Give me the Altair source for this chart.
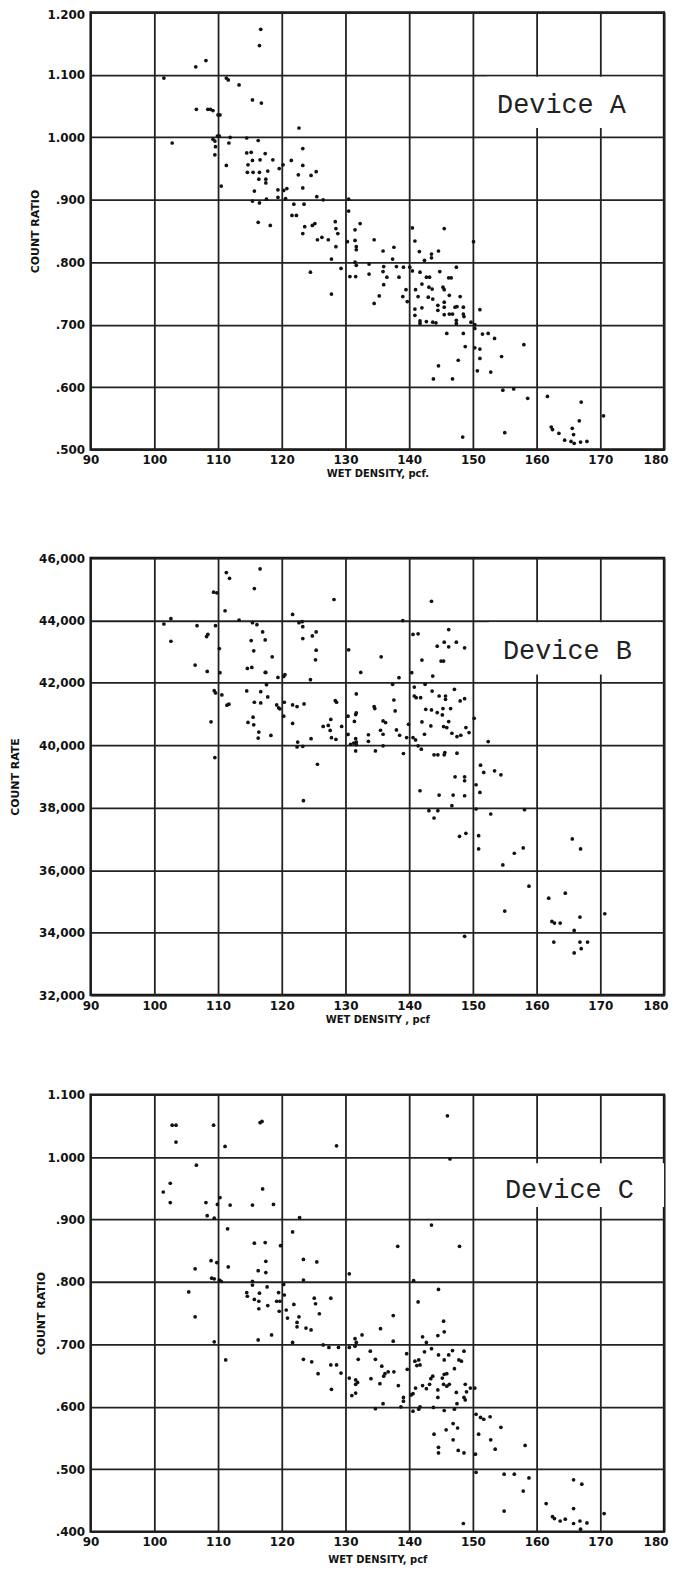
import altair as alt
import pandas as pd

# ---------------- Device A (count ratio vs wet density) ----------------
A_X = [101.5, 102.8, 106.5, 108.1, 106.6, 108.4, 108.8, 109.2, 110.0, 110.3,
       109.2, 109.5, 109.9, 110.2, 109.6, 109.5, 111.3, 111.6, 113.3, 111.9,
       111.7, 111.3, 110.5, 115.4, 116.8, 116.7, 116.5, 114.5, 116.3, 114.5,
       115.2, 114.7, 115.4, 116.6, 117.4, 118.6, 114.6, 115.5, 116.5, 116.4,
       117.5, 117.5, 117.8, 115.7, 115.4, 116.5, 117.6, 116.3, 118.2, 119.6,
       120.2, 119.4, 120.3, 120.8, 119.4, 120.6, 121.5, 122.7, 123.3, 123.3,
       122.6, 123.3, 124.6, 125.4, 125.5, 126.5, 121.9, 123.5, 121.6, 122.3,
       123.6, 123.3, 124.8, 125.2, 125.6, 126.3, 127.3, 128.4, 128.5, 128.8,
       128.5, 127.8, 129.3, 127.8, 124.5, 130.5, 130.5, 130.3, 131.5, 132.3,
       131.5, 131.7, 131.7, 131.5, 131.7, 130.7, 131.6, 133.7, 133.7, 134.5,
       134.5, 135.3, 135.9, 137.6, 137.4, 136.0, 135.9, 136.5, 136.0, 138.0,
       138.4, 139.1, 139.5, 139.0, 139.7, 140.5, 140.9, 141.6, 140.1, 140.5,
       141.7, 142.4, 143.5, 143.5, 144.6, 145.5, 150.1, 144.8, 147.4, 142.7,
       143.2, 142.0, 141.0, 141.4, 143.1, 143.6, 145.3, 145.5, 146.2, 146.6,
       146.3, 148.0, 143.0, 143.7, 144.5, 144.5, 145.5, 145.5, 145.5, 146.3,
       146.8, 147.2, 147.5, 148.5, 148.5, 148.6, 151.1, 140.9, 140.9, 142.0,
       141.7, 141.7, 142.7, 143.7, 144.2, 147.4, 147.4, 149.7, 150.3, 150.3,
       145.9, 148.5, 151.5, 152.4, 153.4, 148.8, 150.3, 151.1, 158.0, 151.1,
       154.5, 147.7, 144.6, 150.7, 152.8, 143.8, 146.8, 154.7, 156.4, 158.6,
       161.7, 167.0, 166.7, 170.5, 162.3, 162.5, 163.5, 164.4, 165.6, 165.8,
       165.4, 165.9, 166.9, 167.9, 155.0, 148.4]
A_Y = [1.095, 0.991, 1.113, 1.123, 1.045, 1.045, 1.045, 1.043, 1.036, 1.036,
       0.997, 0.994, 1.002, 1.002, 0.985, 0.972, 1.095, 1.092, 1.084, 1.000,
       0.991, 0.955, 0.922, 1.060, 1.055, 1.173, 1.147, 0.999, 0.995, 0.975,
       0.976, 0.956, 0.963, 0.964, 0.974, 0.964, 0.944, 0.944, 0.944, 0.933,
       0.933, 0.927, 0.946, 0.914, 0.898, 0.895, 0.901, 0.864, 0.859, 0.950,
       0.956, 0.916, 0.915, 0.918, 0.904, 0.902, 0.963, 1.015, 0.982, 0.955,
       0.940, 0.919, 0.939, 0.945, 0.905, 0.900, 0.893, 0.893, 0.875, 0.875,
       0.857, 0.846, 0.859, 0.862, 0.836, 0.840, 0.836, 0.865, 0.854, 0.846,
       0.825, 0.805, 0.790, 0.749, 0.784, 0.901, 0.882, 0.833, 0.852, 0.862,
       0.835, 0.825, 0.820, 0.800, 0.795, 0.777, 0.777, 0.797, 0.781, 0.836,
       0.734, 0.746, 0.818, 0.824, 0.805, 0.793, 0.785, 0.776, 0.764, 0.793,
       0.776, 0.792, 0.756, 0.745, 0.737, 0.855, 0.834, 0.817, 0.792, 0.786,
       0.784, 0.803, 0.807, 0.813, 0.818, 0.854, 0.833, 0.785, 0.792, 0.776,
       0.776, 0.765, 0.756, 0.745, 0.760, 0.757, 0.760, 0.756, 0.775, 0.775,
       0.747, 0.745, 0.744, 0.741, 0.731, 0.723, 0.736, 0.728, 0.716, 0.717,
       0.717, 0.728, 0.729, 0.728, 0.717, 0.713, 0.724, 0.725, 0.715, 0.727,
       0.706, 0.702, 0.705, 0.704, 0.703, 0.707, 0.702, 0.704, 0.700, 0.694,
       0.686, 0.686, 0.685, 0.686, 0.678, 0.665, 0.663, 0.661, 0.668, 0.646,
       0.649, 0.643, 0.634, 0.626, 0.624, 0.613, 0.613, 0.595, 0.597, 0.582,
       0.585, 0.576, 0.546, 0.554, 0.536, 0.532, 0.526, 0.515, 0.534, 0.524,
       0.513, 0.510, 0.512, 0.513, 0.527, 0.520]

# ---------------- Device B (count rate vs wet density) ----------------
B_X = [101.5, 102.6, 102.6, 106.7, 106.4, 108.3, 108.2, 108.4, 108.9, 109.6,
       109.3, 109.8, 109.6, 109.4, 110.3, 110.2, 110.6, 109.5, 111.3, 111.8,
       111.1, 111.4, 111.7, 113.3, 114.5, 114.6, 115.3, 114.7, 115.4, 115.2,
       115.6, 115.7, 116.6, 116.1, 117.0, 117.4, 117.4, 117.5, 117.6, 116.7,
       117.8, 115.7, 116.7, 115.5, 115.6, 116.4, 116.3, 118.3, 118.5, 119.4,
       120.3, 120.5, 119.2, 119.5, 119.7, 120.4, 120.3, 121.7, 121.7, 122.4,
       121.7, 122.7, 123.2, 123.3, 123.3, 123.5, 122.5, 122.4, 123.3, 124.5,
       124.8, 125.4, 125.3, 125.4, 124.6, 125.6, 123.4, 126.5, 127.3, 127.7,
       127.6, 127.8, 128.5, 128.2, 128.4, 128.6, 129.4, 130.5, 130.4, 130.4,
       130.8, 131.3, 131.4, 131.6, 131.7, 131.7, 131.6, 131.7, 131.7, 131.6,
       132.4, 133.6, 133.6, 134.5, 134.7,
       143.5, 139.0, 140.6, 141.4, 146.2, 144.4, 145.5, 146.2, 147.4, 148.7,
       135.6, 142.0, 145.0, 145.4, 140.4, 138.4, 137.4, 143.7, 140.8, 140.8,
       141.1, 142.5, 141.8, 143.6, 144.7, 145.7, 145.7, 147.1, 148.0, 148.7,
       137.6, 134.6, 137.8, 142.6, 143.5, 144.4, 145.3, 146.5, 145.2, 146.2,
       150.2, 135.9, 136.3, 139.9, 142.0, 143.4, 145.4, 145.9, 148.9, 149.4,
       135.5, 135.9, 138.0, 138.5, 139.6, 140.6, 141.0, 142.4, 146.7, 147.5,
       148.1, 152.4, 135.9, 139.1, 141.4, 141.9, 143.9, 144.5, 145.5, 145.6,
       147.5, 151.2, 151.7, 153.4, 154.4, 147.2, 148.7, 148.7, 150.5, 151.1,
       141.7, 144.7, 146.9, 148.7, 146.7, 143.1, 144.5, 143.9, 150.5, 152.8,
       158.1, 147.9, 148.9, 150.9, 150.9, 157.9, 156.5, 154.7, 165.6, 166.9,
       158.8, 164.5, 161.9, 155.0, 170.7, 166.8, 162.4, 162.8, 163.7, 165.9,
       162.7, 166.8, 168.0, 167.0, 165.9, 148.7]
B_Y = [43887, 44056, 43334, 43834, 42570, 42368, 43483, 43557, 40754, 43834,
       44906, 44885, 41678, 41752, 42326, 43101, 41614, 39607, 45533, 45352,
       44311, 41285, 41317, 44014, 41741, 42463, 42495, 40733, 43929, 43356,
       43026, 45023, 45650, 43866, 43632, 43377, 42336, 42336, 41943, 41720,
       41550, 41380, 41359, 40902, 40658, 40425, 40233, 40318, 42835, 42177,
       42209, 42262, 41295, 41200, 41168, 41380, 40934, 44194, 41295, 41243,
       40700, 43929, 43961, 43802, 43420, 41327, 40106, 39947, 39968, 42103,
       43504, 43632, 42740, 43048, 40212, 39394, 38226, 40605, 40637, 40828,
       40478, 40244, 40191, 44672, 41433, 41380, 40605, 43058, 40934, 40350,
       40031, 40074, 40764, 40987, 41040, 41646, 40212, 40106, 40021, 39819,
       42336, 40339, 40127, 41243, 39819,
       44616, 43998, 43551, 43572, 43710, 43178, 43306, 43157, 43306, 43125,
       42837, 42730, 42698, 42698, 42326, 42166, 41953, 42219, 41868, 41580,
       41527, 41953, 41527, 41740, 41580, 41580, 41474, 41793, 41421, 41495,
       41452, 41176, 41101, 41155, 41133, 41048, 41176, 41176, 40973, 40760,
       40867, 40781, 40728, 40675, 40750, 40622, 40600, 40568, 40568, 40409,
       40483, 40355, 40494, 40323, 40249, 40249, 40174, 40355, 40387, 40281,
       40323, 40121, 39983, 39738, 39983, 39876, 39695, 39695, 39695, 39770,
       39749, 39365, 39131, 39184, 39056, 38992, 38992, 38865, 38737, 38492,
       38545, 38407, 38407, 38385, 38066, 37906, 37906, 37672, 37960, 37800,
       37938, 37086, 37182, 37107, 36681, 36713, 36543, 36170, 37001, 36681,
       35488, 35265, 35105, 34690, 34605, 34498, 34360, 34307, 34307, 34072,
       33699, 33699, 33699, 33486, 33348, 33880]

# ---------------- Device C (count ratio vs wet density) ----------------
C_X = [101.4, 102.5, 102.5, 102.8, 103.4, 103.4, 106.6, 106.4, 105.4, 106.4,
       108.1, 108.3, 109.4, 109.3, 108.9, 109.8, 109.0, 109.4, 110.2, 110.5,
       109.4, 109.9, 110.3, 111.1, 111.5, 111.9, 111.6, 111.2, 115.4, 115.7,
       117.4, 117.0, 116.6, 116.9, 118.7, 115.4, 115.4, 116.3, 117.5, 117.5,
       114.5, 114.6, 115.7, 116.5, 117.7, 116.4, 116.4, 117.8, 116.3, 118.4,
       119.8, 120.3, 120.4, 119.5, 119.7, 119.2, 119.6, 120.7, 120.9, 121.7,
       122.8, 123.4, 123.4, 121.9, 122.7, 122.4, 122.4, 121.7, 123.8, 124.6,
       125.5, 125.1, 125.3, 125.9, 123.4, 124.7, 125.7, 126.5, 127.4, 127.7,
       127.7, 128.6, 128.6, 128.9, 129.3, 127.8, 130.6, 130.6, 131.5, 131.7,
       131.5, 132.6, 130.6, 131.6, 131.9, 131.6, 131.0, 131.6, 132.0, 133.9,
       134.7, 134.0, 134.7, 135.4, 135.5,
       146.0, 146.4, 143.5, 138.2, 147.9, 140.7, 144.6, 141.4, 137.5, 145.4,
       144.5, 145.5, 142.1, 142.7, 137.5, 143.5, 142.4, 144.6, 145.5, 146.2,
       146.8, 147.8, 148.2, 148.6, 139.6, 140.9, 141.5, 141.2, 141.7, 139.7,
       135.7, 136.2, 136.7, 137.6, 136.0, 147.1, 145.5, 145.9, 145.2, 143.7,
       143.4, 145.4, 145.9, 146.3, 138.3, 140.6, 140.3, 141.0, 142.1, 142.7,
       143.2, 144.5, 144.5, 147.4, 148.8, 149.0, 149.6, 150.3, 148.6, 148.8,
       139.1, 139.1, 138.7, 135.9, 140.6, 141.5, 141.7, 143.8, 145.5, 147.1,
       147.5, 150.5, 151.2, 151.7, 152.7, 154.4, 146.9, 147.6, 145.8, 143.9,
       150.9, 152.8, 146.9, 153.5, 144.6, 144.6, 147.7, 148.6, 150.4, 158.2,
       150.5, 154.9, 156.5, 158.8, 165.8, 167.1, 157.9, 161.5, 154.9, 165.8,
       170.6, 162.5, 162.8, 163.7, 164.5, 165.8, 166.8, 167.9, 166.9, 148.5]
C_Y = [0.944, 0.958, 0.927, 1.051, 1.051, 1.024, 0.987, 0.821, 0.784, 0.744,
       0.927, 0.906, 0.902, 1.051, 0.834, 0.831, 0.806, 0.805, 0.803, 0.801,
       0.704, 0.924, 0.935, 1.017, 0.885, 0.923, 0.824, 0.675, 0.923, 0.862,
       0.863, 0.949, 1.055, 1.057, 0.924, 0.801, 0.795, 0.818, 0.833, 0.815,
       0.783, 0.777, 0.772, 0.782, 0.792, 0.769, 0.757, 0.762, 0.707, 0.715,
       0.858, 0.796, 0.779, 0.783, 0.769, 0.769, 0.753, 0.755, 0.742, 0.880,
       0.903, 0.836, 0.803, 0.764, 0.744, 0.735, 0.728, 0.703, 0.726, 0.723,
       0.832, 0.774, 0.765, 0.749, 0.676, 0.672, 0.653, 0.699, 0.695, 0.774,
       0.667, 0.667, 1.018, 0.695, 0.654, 0.628, 0.813, 0.695, 0.709, 0.703,
       0.697, 0.715, 0.646, 0.643, 0.639, 0.636, 0.618, 0.622, 0.676, 0.689,
       0.676, 0.645, 0.597, 0.637, 0.725,
       1.066, 0.997, 0.891, 0.857, 0.857, 0.802, 0.788, 0.768, 0.746, 0.737,
       0.714, 0.720, 0.712, 0.703, 0.705, 0.693, 0.688, 0.683, 0.675, 0.683,
       0.690, 0.675, 0.673, 0.689, 0.685, 0.673, 0.675, 0.666, 0.667, 0.660,
       0.665, 0.653, 0.656, 0.656, 0.649, 0.661, 0.652, 0.653, 0.646, 0.649,
       0.645, 0.636, 0.633, 0.636, 0.634, 0.621, 0.619, 0.630, 0.634, 0.629,
       0.636, 0.627, 0.615, 0.623, 0.636, 0.624, 0.630, 0.630, 0.615, 0.611,
       0.615, 0.609, 0.600, 0.605, 0.593, 0.596, 0.600, 0.599, 0.594, 0.596,
       0.605, 0.588, 0.583, 0.580, 0.584, 0.567, 0.573, 0.566, 0.563, 0.556,
       0.556, 0.547, 0.547, 0.532, 0.535, 0.526, 0.530, 0.526, 0.524, 0.538,
       0.495, 0.492, 0.492, 0.486, 0.483, 0.476, 0.465, 0.445, 0.433, 0.437,
       0.429, 0.424, 0.421, 0.417, 0.420, 0.413, 0.417, 0.414, 0.404, 0.413]

X_TICKS = [90, 100, 110, 120, 130, 140, 150, 160, 170, 180]
RATIO_TICKS_A = [0.5, 0.6, 0.7, 0.8, 0.9, 1.0, 1.1, 1.2]
RATE_TICKS_B = [32000, 34000, 36000, 38000, 40000, 42000, 44000, 46000]
RATIO_TICKS_C = [0.4, 0.5, 0.6, 0.7, 0.8, 0.9, 1.0, 1.1]
LABELS = ["Device A", "Device B", "Device C"]
X_TITLES = ["WET DENSITY, pcf.", "WET DENSITY , pcf", "WET DENSITY, pcf"]
Y_TITLES = ["COUNT RATIO", "COUNT RATE", "COUNT RATIO"]

W, H = 576, 439
GRID = "#222222"
INK = "#121212"
TICK_FONT = "DejaVu Sans"
TITLE_FONT = "DejaVu Sans"
LABEL_FONT = "Courier New, Courier, Liberation Mono, monospace"

RATIO_EXPR = ("datum.value >= 1 ? format(datum.value, '.3f') : "
              "replace(format(datum.value, '.3f'), '0.', '.')")
LAST_X = "datum.value == 180"


def panel(xs, ys, ydom, yticks, ylabel_expr, ytitle, ytitle_pad, xtitle,
          xtitle_pad, xlabel_pad, label, box, text_pos, top_shift):
    df = pd.DataFrame({"x": xs, "y": ys})
    xaxis = alt.Axis(values=X_TICKS, grid=True, gridColor=GRID, gridWidth=1.8,
                     gridOpacity=1, ticks=False, domain=False,
                     labelFont=TICK_FONT, labelFontSize=12, labelFontWeight="bold",
                     labelColor=INK, labelPadding=xlabel_pad, labelFlush=False,
                     labelOverlap=False,
                     labelAlign=alt.condition(LAST_X, alt.value("right"),
                                              alt.value("center")),
                     labelOffset=alt.condition(LAST_X, alt.value(4), alt.value(0)),
                     title=xtitle, titleFont=TITLE_FONT,
                     titleFontSize=10, titleFontWeight="bold", titleColor=INK,
                     titlePadding=xtitle_pad, minExtent=18, maxExtent=18)
    top_test = "datum.value == %s" % repr(ydom[1])
    yargs = dict(values=yticks, grid=True, gridColor=GRID, gridWidth=1.8,
                 gridOpacity=1, ticks=False, domain=False,
                 labelFont=TICK_FONT, labelFontSize=12, labelFontWeight="bold",
                 labelColor=INK, labelPadding=6, labelFlush=False,
                 labelOverlap=False,
                 labelOffset=alt.condition(top_test, alt.value(top_shift),
                                           alt.value(0)),
                 title=ytitle, titleFont=TITLE_FONT,
                 titleFontSize=11, titleFontWeight="bold", titleColor=INK,
                 titlePadding=ytitle_pad, minExtent=40, maxExtent=40)
    if ylabel_expr:
        yargs["labelExpr"] = ylabel_expr
    else:
        yargs["format"] = ",d"
    yaxis = alt.Axis(**yargs)

    pts = alt.Chart(df).mark_circle(size=14, color=INK, opacity=1).encode(
        x=alt.X("x:Q", scale=alt.Scale(domain=[90, 180], nice=False, zero=False),
                axis=xaxis),
        y=alt.Y("y:Q", scale=alt.Scale(domain=ydom, nice=False, zero=False),
                axis=yaxis),
    )
    lab = pd.DataFrame({"label": [label]})
    rect = alt.Chart(lab).mark_rect(color="white").encode(
        x=alt.value(box[0]), x2=alt.value(box[1]),
        y=alt.value(box[2]), y2=alt.value(box[3]))
    txt = alt.Chart(lab).mark_text(font=LABEL_FONT, fontSize=27,
                                   color="#222222", align="center",
                                   baseline="middle").encode(
        x=alt.value(text_pos[0]), y=alt.value(text_pos[1]), text="label:N")
    return alt.layer(pts, rect, txt).properties(width=W, height=H)


pa = panel(A_X, A_Y, [0.5, 1.2], RATIO_TICKS_A, RATIO_EXPR, Y_TITLES[0], 10,
           X_TITLES[0], 1, 5, LABELS[0], (398, 572, 64.5, 116), (473, 93), 2)
pb = panel(B_X, B_Y, [32000, 46000], RATE_TICKS_B, None, Y_TITLES[1], 30,
           X_TITLES[1], 2, 6, LABELS[1], (400, 574, 64.5, 117), (479, 93), 0)
pc = panel(C_X, C_Y, [0.4, 1.1], RATIO_TICKS_C, RATIO_EXPR, Y_TITLES[2], 4,
           X_TITLES[2], 5, 5, LABELS[2], (404, 576, 69, 113), (481, 96), 0)

chart = alt.vconcat(pa, alt.vconcat(pb, pc, spacing=60), spacing=70).properties(
    padding={"left": 0, "top": -5, "right": 0, "bottom": -4},
    background="white",
).configure_view(stroke="#111111", strokeWidth=2.4)

chart.save("out.html", embed_options={"renderer": "svg", "actions": False})
